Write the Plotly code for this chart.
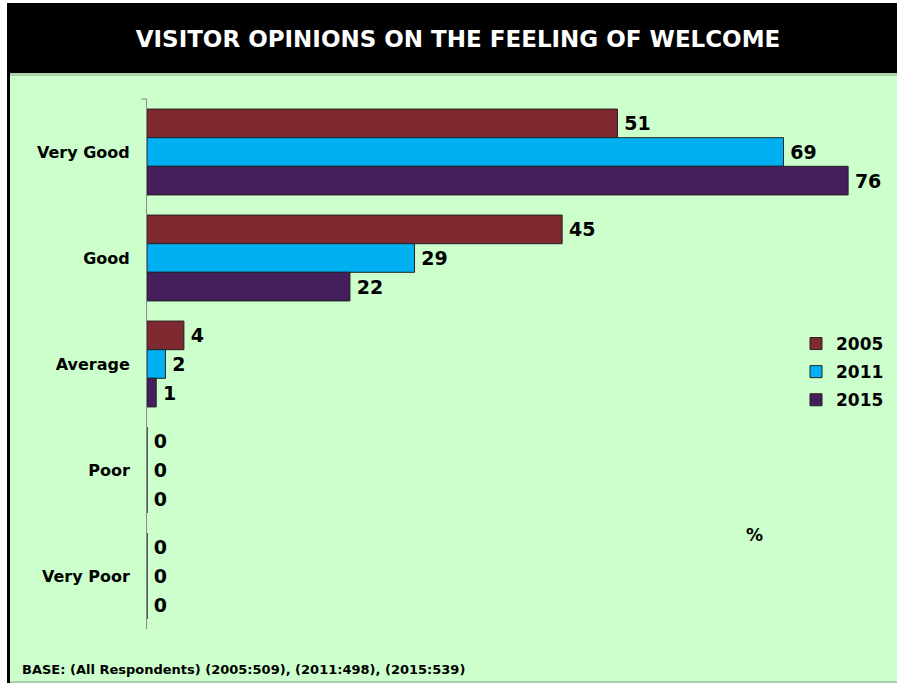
import plotly.graph_objects as go

# Survey data: share of visitors (%) per rating, by survey year
categories = ["Very Good", "Good", "Average", "Poor", "Very Poor"]
years = ["2005", "2011", "2015"]
values_2005 = [51, 45, 4, 0, 0]
values_2011 = [69, 29, 2, 0, 0]
values_2015 = [76, 22, 1, 0, 0]
series_values = [values_2005, values_2011, values_2015]
series_colors = ["#7F2A30", "#00B0F0", "#441F5C"]

title_text = "VISITOR OPINIONS ON THE FEELING OF WELCOME"
base_note = "BASE: (All Respondents) (2005:509), (2011:498), (2015:539)"
unit_label = "%"

FONT = "DejaVu Sans"
W, H = 897, 683
PLOT_L, PLOT_R, PLOT_T, PLOT_B = 147, 897, 99, 629


def px_x(px):
    """Convert a pixel column to paper x."""
    return (px - PLOT_L) / (PLOT_R - PLOT_L)


def px_y(py):
    """Convert a pixel row to paper y."""
    return (PLOT_B - py) / (PLOT_B - PLOT_T)


fig = go.Figure()
for year, vals, color in zip(years, series_values, series_colors):
    fig.add_trace(go.Bar(
        name=year,
        y=categories,
        x=vals,
        orientation="h",
        marker=dict(color=color, line=dict(color="#222222", width=1)),
        texttemplate="\u2009%{x}",
        textposition="outside",
        textfont=dict(family=FONT, size=19, color="black", weight="bold"),
        cliponaxis=False,
        legendgroup=year,
    ))

shapes = [
    # green chart background
    dict(type="rect", xref="paper", yref="paper", layer="below",
         x0=px_x(7), x1=px_x(W), y0=px_y(73), y1=px_y(H),
         fillcolor="#CCFFCC", line=dict(width=0)),
    # black title banner
    dict(type="rect", xref="paper", yref="paper", layer="below",
         x0=px_x(7), x1=px_x(W), y0=px_y(3), y1=px_y(73),
         fillcolor="black", line=dict(width=0)),
    # soft shadow under the banner
    dict(type="rect", xref="paper", yref="paper", layer="below",
         x0=px_x(10), x1=px_x(W), y0=px_y(73), y1=px_y(76),
         fillcolor="#A9D6A9", line=dict(width=0)),
    # left frame edge
    dict(type="rect", xref="paper", yref="paper", layer="below",
         x0=px_x(7), x1=px_x(10), y0=px_y(3), y1=px_y(H),
         fillcolor="black", line=dict(width=0)),
    # bottom frame edge
    dict(type="rect", xref="paper", yref="paper", layer="below",
         x0=px_x(10), x1=px_x(W), y0=px_y(681), y1=px_y(H),
         fillcolor="#A9CFA9", line=dict(width=0)),
    # small tick at the top of the category axis
    dict(type="line", xref="paper", yref="paper",
         x0=px_x(141), x1=px_x(147), y0=px_y(99), y1=px_y(99),
         line=dict(color="#8c8c8c", width=1)),
]

annotations = [
    dict(text=unit_label, xref="paper", yref="paper",
         x=px_x(754), y=px_y(535), xanchor="center", yanchor="middle",
         showarrow=False,
         font=dict(family=FONT, size=17, color="black", weight="bold")),
    dict(text=base_note, xref="paper", yref="paper",
         x=px_x(20), y=px_y(669), xanchor="left", yanchor="middle",
         showarrow=False,
         font=dict(family=FONT, size=13, color="black", weight="bold")),
]

fig.update_layout(
    width=W, height=H,
    margin=dict(l=PLOT_L, r=W - PLOT_R, t=PLOT_T, b=H - PLOT_B, pad=0),
    paper_bgcolor="white",
    plot_bgcolor="rgba(0,0,0,0)",
    barmode="group",
    bargap=0.19,
    bargroupgap=0,
    title=dict(text=title_text, x=458 / W, y=1 - 39 / H,
               xanchor="center", yanchor="middle", xref="container", yref="container",
               font=dict(family=FONT, size=23, color="white", weight="bold")),
    xaxis=dict(visible=False, range=[0, 81.3], fixedrange=True),
    yaxis=dict(
        type="category", categoryorder="array", categoryarray=categories,
        autorange="reversed", showgrid=False, zeroline=False,
        showline=True, linecolor="#8c8c8c", linewidth=1,
        ticks="", ticklabelstandoff=13,
        tickfont=dict(family=FONT, size=16, color="black", weight="bold"),
    ),
    showlegend=True,
    legend=dict(x=px_x(796), y=px_y(326), xanchor="left", yanchor="top",
                bgcolor="rgba(0,0,0,0)", tracegroupgap=3,
                font=dict(family=FONT, size=17, color="black", weight="bold")),
    shapes=shapes,
    annotations=annotations,
    font=dict(family=FONT),
)

fig.write_html("out.html")
